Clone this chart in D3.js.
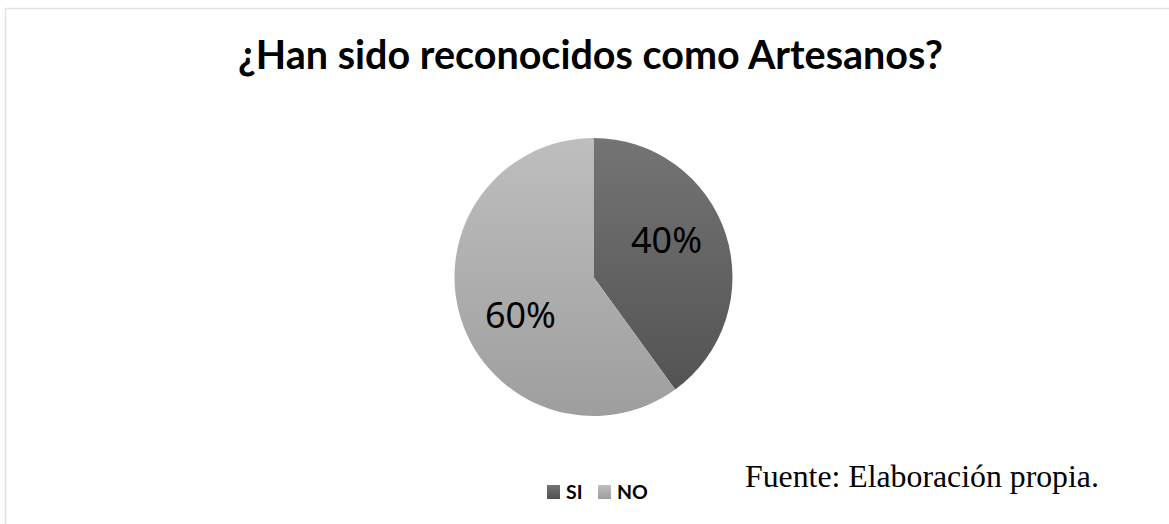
<!DOCTYPE html>
<html><head><meta charset="utf-8">
<script src="https://cdn.jsdelivr.net/npm/d3@7"></script>
<style>html,body{margin:0;padding:0;background:#fff;}svg{display:block;}</style>
</head><body>
<svg id="c" width="1169" height="524"></svg>
<script>
const title = "¿Han sido reconocidos como Artesanos?";
const categories = ["SI", "NO"];
const values = [40, 60];
const labels = ["40%", "60%"];
const source = "Fuente: Elaboración propia.";

const svg = d3.select("#c");
const W = 1169, H = 524;
const cx = 593.5, cy = 277, R = 139;

// frame
svg.append("rect").attr("x", 5.5).attr("y", 8.5).attr("width", W + 10).attr("height", H + 10)
  .attr("fill", "#fff").attr("stroke", "#dfe2e8").attr("stroke-width", 1.5);

const grads = [["#747474", "#505050"], ["#bebebe", "#9e9e9e"]];
const defs = svg.append("defs");
grads.forEach((g, i) => {
  const lg = defs.append("linearGradient").attr("id", "g" + i)
    .attr("gradientUnits", "userSpaceOnUse")
    .attr("x1", 0).attr("y1", -R).attr("x2", 0).attr("y2", R);
  lg.append("stop").attr("offset", 0).attr("stop-color", g[0]);
  lg.append("stop").attr("offset", 1).attr("stop-color", g[1]);
  const lg2 = defs.append("linearGradient").attr("id", "lg" + i)
    .attr("x1", 0).attr("y1", 0).attr("x2", 0).attr("y2", 1);
  lg2.append("stop").attr("offset", 0).attr("stop-color", g[0]);
  lg2.append("stop").attr("offset", 1).attr("stop-color", g[1]);
});

const color = d3.scaleOrdinal().domain(categories).range(["url(#g0)", "url(#g1)"]);
const legendColor = d3.scaleOrdinal().domain(categories).range(["url(#lg0)", "url(#lg1)"]);

const pie = d3.pie().sort(null).value(d => d.v);
const data = pie(categories.map((c, i) => ({c, v: values[i], l: labels[i]})));
const arc = d3.arc().innerRadius(0).outerRadius(R);

const g = svg.append("g").attr("transform", `translate(${cx},${cy})`);
g.selectAll("path").data(data).join("path")
  .attr("d", arc).attr("fill", d => color(d.data.c));

// labels
const labelR = 82, labelShift = -9 * Math.PI / 180;
function fitText(sel, targetW) {
  const n = sel.node();
  const fs = parseFloat(sel.attr("font-size"));
  const w = n.getBBox().width;
  sel.attr("font-size", fs * targetW / w);
}
g.selectAll("text.lbl").data(data).join("text").attr("class", "lbl")
  .attr("x", d => labelR * Math.sin((d.startAngle + d.endAngle) / 2 + labelShift))
  .attr("y", d => -labelR * Math.cos((d.startAngle + d.endAngle) / 2 + labelShift))
  .attr("text-anchor", "middle").attr("dominant-baseline", "central")
  .attr("font-family", "'Noto Sans', sans-serif").attr("font-size", 37)
  .attr("fill", "#000").text(d => d.data.l)
  .each(function () { fitText(d3.select(this), 71); });

// title
const t = svg.append("text").attr("x", 590.5).attr("y", 69).attr("text-anchor", "middle")
  .attr("font-family", "Lato, 'Open Sans', sans-serif").attr("font-weight", "bold")
  .attr("font-size", 36).attr("fill", "#000").text(title);
fitText(t, 705);

// legend
const legX = d3.scaleOrdinal().domain(categories).range([547, 598]);
const lg = svg.append("g");
lg.selectAll("rect").data(categories).join("rect")
  .attr("x", d => legX(d)).attr("y", 485).attr("width", 13).attr("height", 14)
  .attr("fill", d => legendColor(d));
lg.selectAll("text").data(categories).join("text")
  .attr("x", d => legX(d) + 19).attr("y", 499)
  .attr("font-family", "Lato, 'Open Sans', sans-serif").attr("font-weight", "bold")
  .attr("font-size", 19.5).attr("fill", "#000").text(d => d);

// source
const s = svg.append("text").attr("x", 745).attr("y", 487)
  .attr("font-family", "'Liberation Serif', 'Times New Roman', serif")
  .attr("font-size", 27).attr("fill", "#000").text(source);
fitText(s, 354);
</script>
</body></html>
